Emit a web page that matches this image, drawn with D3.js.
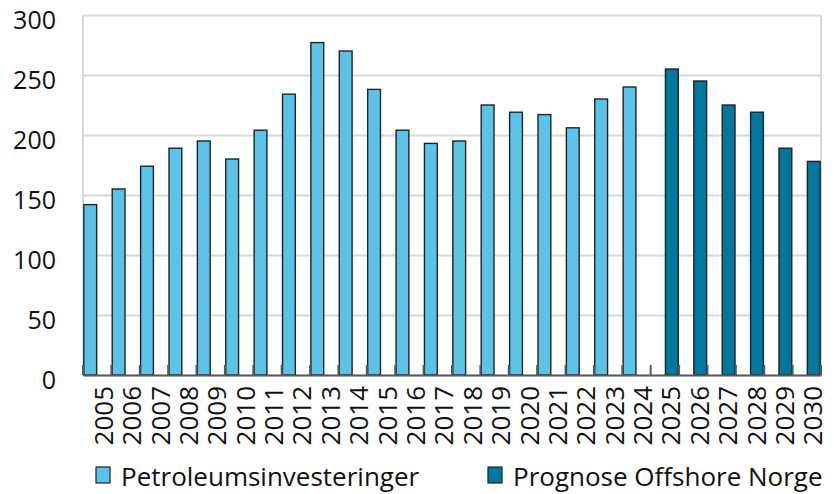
<!DOCTYPE html>
<html lang="no">
<head>
    <meta charset="UTF-8">
    <title>Petroleumsinvesteringer</title>
    <script src="https://cdn.jsdelivr.net/npm/d3@7"></script>
    <style>
        body { margin: 0; background: #fff; }
        text { font-family: "Open Sans", sans-serif; fill: #111; }
    </style>
</head>
<body>
<script>

    // data
    var years = ['2005','2006','2007','2008','2009','2010','2011','2012','2013','2014','2015','2016','2017',
                 '2018','2019','2020','2021','2022','2023','2024','2025','2026','2027','2028','2029','2030'];
    var seriesNames = ['Petroleumsinvesteringer', 'Prognose Offshore Norge'];
    var seriesColors = ['#5bc3e8', '#00779e'];
    var petroleum = [142, 155, 174, 189, 195, 180, 204, 234, 277, 270, 238, 204, 193,
                     195, 225, 219, 217, 206, 230, 240, null, null, null, null, null, null];
    var prognose = [null, null, null, null, null, null, null, null, null, null, null, null, null,
                    null, null, null, null, null, null, null, 255, 245, 225, 219, 189, 178];
    var yTicks = [0, 50, 100, 150, 200, 250, 300];

    var w = 834, h = 494;
    var margin = {top: 15, right: 13, bottom: 119, left: 83};
    var iw = w - margin.left - margin.right;
    var ih = h - margin.top - margin.bottom;

    var svg = d3.select("body")
        .append("svg")
        .attr("width", w)
        .attr("height", h);

    var g = svg.append("g")
        .attr("transform", "translate(" + margin.left + "," + margin.top + ")");

    var x = d3.scaleBand().domain(years).range([0, iw]);
    var x1 = d3.scaleBand().domain([0, 1]).range([0, x.bandwidth()])
        .paddingInner(0.08).paddingOuter(0.06);
    var y = d3.scaleLinear().domain([0, 300]).range([ih, 0]);

    // gridlines + y labels
    var yAxis = g.append("g")
        .call(d3.axisLeft(y).tickValues(yTicks).tickSize(-iw).tickPadding(27));
    yAxis.select(".domain").remove();
    yAxis.selectAll(".tick line").attr("stroke", "#d9d9d9").attr("stroke-width", 2);
    yAxis.selectAll(".tick text")
        .attr("font-size", "25px")
        .attr("dy", "0.55em")
        .attr("fill", "#111");

    // plot frame (left and right)
    g.append("line").attr("x1", 0).attr("x2", 0).attr("y1", 0).attr("y2", ih)
        .attr("stroke", "#d9d9d9").attr("stroke-width", 2);
    g.append("line").attr("x1", iw).attr("x2", iw).attr("y1", 0).attr("y2", ih)
        .attr("stroke", "#d9d9d9").attr("stroke-width", 2);

    // bars
    var allSeries = [petroleum, prognose];
    allSeries.forEach(function(vals, si) {
        g.append("g")
            .selectAll("rect")
            .data(years.map(function(yr, i) { return {year: yr, v: vals[i]}; })
                .filter(function(d) { return d.v != null; }))
            .enter()
            .append("rect")
            .attr("x", function(d) { return x(d.year) + x1(si); })
            .attr("width", x1.bandwidth())
            .attr("y", function(d) { return y(d.v); })
            .attr("height", function(d) { return ih - y(d.v); })
            .attr("fill", seriesColors[si])
            .attr("stroke", "#222")
            .attr("stroke-width", 1.4);
    });

    // x axis line and ticks between categories
    var xAxis = g.append("g")
        .attr("transform", "translate(0," + ih + ")")
        .call(d3.axisBottom(x).tickSize(0));
    xAxis.select(".domain").attr("stroke", "#595959").attr("stroke-width", 2);
    xAxis.selectAll(".tick text")
        .attr("font-size", "26px")
        .attr("fill", "#111")
        .attr("text-anchor", "end")
        .attr("transform", "rotate(-90)")
        .attr("x", -11)
        .attr("y", 0)
        .attr("dy", "0.6em");

    var bounds = years.map(function(d) { return x(d); }).concat([iw]);
    g.append("g")
        .selectAll("line")
        .data(bounds)
        .enter()
        .append("line")
        .attr("x1", function(d) { return d; })
        .attr("x2", function(d) { return d; })
        .attr("y1", ih - 10)
        .attr("y2", ih)
        .attr("stroke", "#595959")
        .attr("stroke-width", 2);

    // legend
    var legendX = [96, 488];
    var legend = svg.append("g");
    seriesNames.forEach(function(name, i) {
        legend.append("rect")
            .attr("x", legendX[i])
            .attr("y", 467)
            .attr("width", 14)
            .attr("height", 16)
            .attr("fill", seriesColors[i])
            .attr("stroke", "#222")
            .attr("stroke-width", 1.2);
        legend.append("text")
            .attr("x", legendX[i] + 25)
            .attr("y", 486)
            .attr("font-size", "26px")
            .text(name);
    });

</script>
</body>
</html>
